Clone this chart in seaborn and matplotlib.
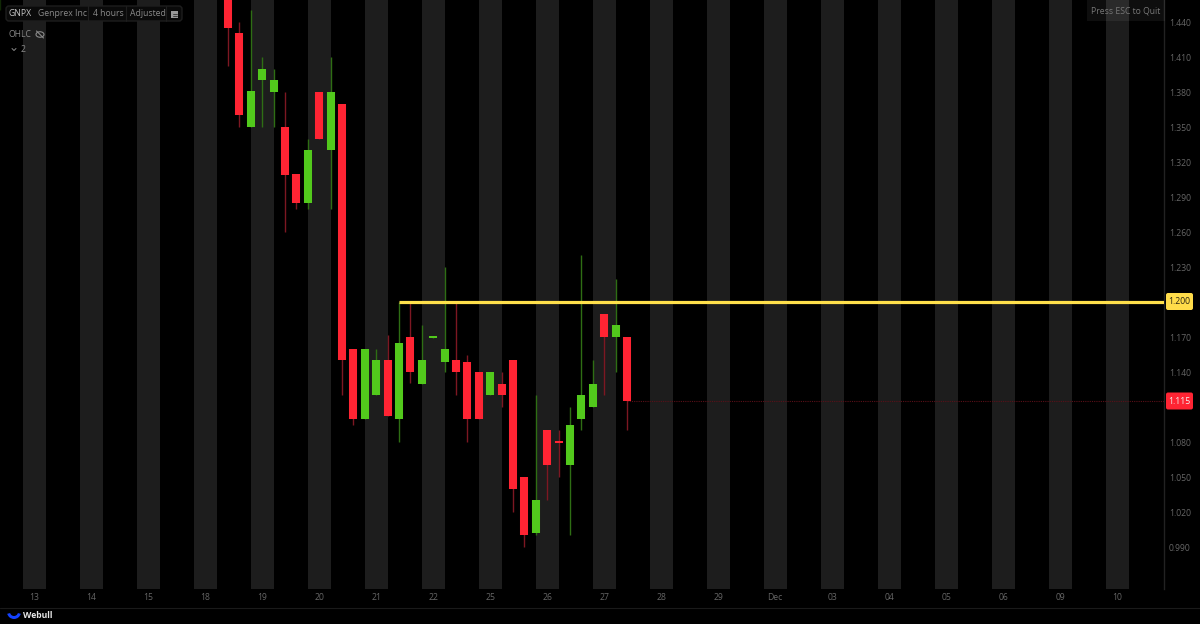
#GNPX 4 hour candles, Webull dark chart
import numpy as np
import pandas as pd
import matplotlib.pyplot as plt
import seaborn as sns
from matplotlib.lines import Line2D
from matplotlib.patches import Rectangle, FancyBboxPatch, Wedge, Ellipse
from matplotlib.transforms import IdentityTransform

# candles, one every 4 hours, index 0 is the first one visible in the drop
opens = [1.480, 1.431, 1.350, 1.390, 1.380, 1.350, 1.310, 1.285, 1.380, 1.330, 1.370, 1.160,
         1.100, 1.120, 1.150, 1.100, 1.170, 1.130, 1.169, 1.149, 1.150, 1.149, 1.140, 1.120,
         1.130, 1.150, 1.050, 1.002, 1.090, 1.081, 1.060, 1.100, 1.110, 1.190, 1.170, 1.170]
closes = [1.435, 1.360, 1.381, 1.400, 1.390, 1.309, 1.285, 1.330, 1.340, 1.380, 1.150, 1.100,
          1.160, 1.150, 1.102, 1.165, 1.140, 1.150, 1.171, 1.160, 1.140, 1.100, 1.100, 1.140,
          1.120, 1.040, 1.000, 1.030, 1.060, 1.079, 1.095, 1.120, 1.130, 1.170, 1.180, 1.115]
highs = [1.480, 1.440, 1.450, 1.410, 1.400, 1.380, 1.310, 1.340, 1.380, 1.410, 1.370, 1.160,
         1.160, 1.160, 1.172, 1.200, 1.200, 1.180, 1.171, 1.230, 1.200, 1.155, 1.140, 1.140,
         1.140, 1.150, 1.050, 1.120, 1.090, 1.090, 1.110, 1.240, 1.150, 1.190, 1.220, 1.170]
lows = [1.402, 1.350, 1.350, 1.350, 1.350, 1.260, 1.280, 1.280, 1.340, 1.280, 1.120, 1.095,
        1.100, 1.120, 1.102, 1.080, 1.131, 1.130, 1.169, 1.140, 1.120, 1.080, 1.100, 1.120,
        1.110, 1.020, 0.990, 1.000, 1.030, 1.050, 1.000, 1.090, 1.110, 1.120, 1.140, 1.090]

# day labels sit every 5 candles
day_labels = ['13', '14', '15', '18', '19', '20', '21', '22', '25', '26', '27', '28', '29',
              'Dec', '03', '04', '05', '06', '09', '10']
day_pos = [-17 + 5 * i for i in range(len(day_labels))]
price_ticks = [1.44, 1.41, 1.38, 1.35, 1.32, 1.29, 1.26, 1.23, 1.17, 1.14, 1.08, 1.05, 1.02, 0.99]
level_price = 1.200
last_price = 1.115

# the sliver of an older candle at the far left
old_x = [-20, -20]
old_y = [1.460, 1.450]

RED = '#ff2433'
GREEN = '#52c91c'
RED_WICK = '#7d1722'
GREEN_WICK = '#2e6e14'
GREY = '#666666'

sns.set_theme(style='dark', rc={'axes.facecolor': 'black', 'figure.facecolor': 'black'})
plt.rcParams['font.family'] = ['Open Sans', 'DejaVu Sans']

idx = np.arange(len(opens))
side = ['up' if c > o else 'down' for o, c in zip(opens, closes)]
candles = pd.DataFrame({'i': idx, 'open': opens, 'close': closes, 'high': highs, 'low': lows, 'side': side})
wicks = candles.melt(id_vars=['i', 'side'], value_vars=['high', 'low'], value_name='price')
bodies = candles.melt(id_vars=['i', 'side'], value_vars=['open', 'close'], value_name='price')

fig = plt.figure(figsize=(12, 6.24), dpi=100)
ax = fig.add_axes([0, 35 / 624, 1164 / 1200, 589 / 624])

# day bands
for d in day_pos:
    ax.axvspan(d - 1, d + 1, color='#1d1d1d', lw=0, zorder=0)

sns.lineplot(data=wicks, x='i', y='price', units='i', estimator=None, hue='side', ax=ax, legend=False,
             palette={'up': GREEN_WICK, 'down': RED_WICK}, linewidth=1.0, solid_capstyle='butt', zorder=2)
sns.lineplot(data=bodies, x='i', y='price', units='i', estimator=None, hue='side', ax=ax, legend=False,
             palette={'up': GREEN, 'down': RED}, linewidth=5.8, solid_capstyle='butt', zorder=3)
sns.lineplot(x=old_x, y=old_y, color=GREEN, linewidth=1.6, ax=ax, legend=False, solid_capstyle='butt')

ax.set_xlim(-20.0, 82.1)
ax.set_ylim(0.954, 1.4589)

# price level and last price
ax.hlines(level_price, 15, 82.1, color='#ffe04b', lw=2.3, zorder=5)
ax.hlines(last_price, 35, 82.1, color='#5a1018', lw=0.8, linestyle=(0, (1, 1)), zorder=1)

ax.set_xticks(day_pos, day_labels)
ax.set_yticks(price_ticks, ['%.3f' % p for p in price_ticks])
ax.yaxis.tick_right()
ax.tick_params(axis='x', length=0, pad=3, labelsize=6.2, labelcolor=GREY)
ax.tick_params(axis='y', length=0, pad=3.6, labelsize=6.2, labelcolor=GREY)
ax.set_xlabel('')
ax.set_ylabel('')
ax.grid(False)
for s in ['top', 'left', 'bottom']:
    ax.spines[s].set_visible(False)
ax.spines['right'].set_color('#222222')
ax.spines['right'].set_linewidth(1)

# everything below is placed in pixels, y counted from the top like the screenshot
H = 624
px = IdentityTransform()


def put(x, y, s, color='#8a8a8a', size=6.2, **kw):
    kw.setdefault('ha', 'left')
    fig.text(x, H - y, s, color=color, fontsize=size, va='center', transform=px, **kw)


# price tags
fig.add_artist(FancyBboxPatch((1166, H - 310), 27, 17, boxstyle='round,pad=0,rounding_size=2',
                              fc='#ffdc4a', ec='none', transform=px))
put(1179.5, 301.5, '1.200', color='#2a2410', ha='center')
fig.add_artist(FancyBboxPatch((1166, H - 409.5), 27, 17, boxstyle='round,pad=0,rounding_size=2',
                              fc=RED, ec='none', transform=px))
put(1179.5, 401, '1.115', color='#f2f2f2', ha='center')

# header box
fig.add_artist(FancyBboxPatch((6, H - 21), 176, 15, boxstyle='round,pad=0,rounding_size=3',
                              fc='#0a0a0a', ec='#1e1e1e', lw=1, transform=px))
for sep in [88, 126, 166]:
    fig.add_artist(Line2D([sep, sep], [H - 21, H - 6], color='#1e1e1e', lw=0.8, transform=px))
put(8.5, 14, 'GNPX', color='#c4c4c4')
put(38, 14, 'Genprex Inc')
put(93, 14, '4 hours')
put(130, 14, 'Adjusted')
fig.add_artist(Rectangle((171, H - 18), 7, 7, fc='#9a9a9a', ec='none', transform=px))
for ly in [H - 13.5, H - 15.5]:
    fig.add_artist(Line2D([172.5, 176.5], [ly, ly], color='#333333', lw=0.6, transform=px))

put(8.5, 34.5, 'OHLC')
fig.add_artist(Ellipse((40, H - 34.5), 8, 5.5, fc='none', ec='#8a8a8a', lw=0.8, transform=px))
fig.add_artist(Line2D([36.5, 43.5], [H - 31, H - 38], color='#8a8a8a', lw=0.8, transform=px))
fig.add_artist(Line2D([12, 14, 16], [H - 48.5, H - 50.5, H - 48.5], color='#8a8a8a', lw=0.7, transform=px))
put(21, 49.5, '2')

# ESC hint
fig.add_artist(Rectangle((1087, H - 21), 78, 21, fc='white', alpha=0.06, ec='none', transform=px))
put(1125.5, 11, 'Press ESC to Quit', color='#777777', ha='center')

# footer
fig.add_artist(Line2D([0, 1200], [H - 607.5, H - 607.5], color='#1a1a1a', lw=0.8, transform=px))
fig.add_artist(Wedge((14, H - 612), 7, 195, 345, width=3, fc='#1442ff', ec='none', transform=px))
put(23, 616, 'Webull', color='#e6e6e6', fontweight='bold')

plt.savefig('out.png', dpi=100, facecolor='black')
